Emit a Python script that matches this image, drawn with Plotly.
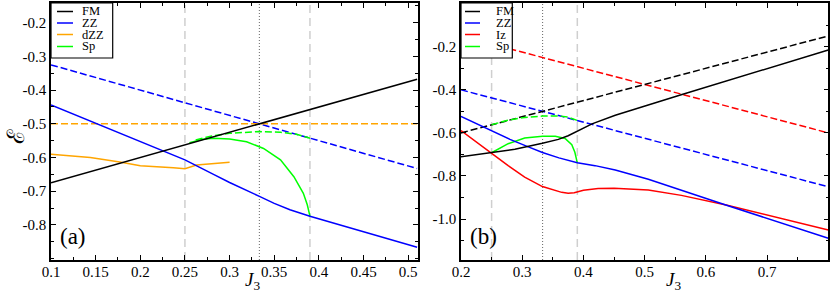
import plotly.graph_objects as go

# ---------------- data: panel (a) ----------------
a_fm_x = [0.1, 0.51]
a_fm_y = [-0.675, -0.3675]

a_zz_x = [0.1, 0.2, 0.25, 0.282, 0.30, 0.334, 0.35, 0.3676, 0.38, 0.39, 0.45, 0.51]
a_zz_y = [-0.444, -0.552, -0.607, -0.650, -0.674, -0.716, -0.736, -0.755, -0.766, -0.774, -0.820, -0.866]

a_zz_dash_x = [0.1, 0.51]
a_zz_dash_y = [-0.325, -0.6325]

a_dzz_x = [0.1, 0.144, 0.177, 0.2, 0.237, 0.25, 0.263, 0.282, 0.3]
a_dzz_y = [-0.590, -0.600, -0.613, -0.624, -0.630, -0.633, -0.622, -0.617, -0.614]

a_dzz_dash_x = [0.1, 0.51]
a_dzz_dash_y = [-0.5, -0.5]

a_sp_x = [0.255, 0.27, 0.282, 0.30, 0.319, 0.338, 0.357, 0.372, 0.3826, 0.387, 0.39]
a_sp_y = [-0.556, -0.546, -0.543, -0.545, -0.553, -0.573, -0.607, -0.657, -0.706, -0.740, -0.774]

a_sp_dash_x = [0.262, 0.28, 0.30, 0.32, 0.334, 0.357, 0.375, 0.39]
a_sp_dash_y = [-0.548, -0.536, -0.528, -0.524, -0.523, -0.525, -0.531, -0.5425]

# ---------------- data: panel (b) ----------------
b_fm_x = [0.2, 0.25, 0.288, 0.333, 0.359, 0.375, 0.39, 0.414, 0.452, 0.506, 0.561, 0.8]
b_fm_y = [-0.711, -0.692, -0.676, -0.648, -0.630, -0.613, -0.592, -0.558, -0.518, -0.470, -0.422, -0.215]

b_fm_dash_x = [0.2, 0.8]
b_fm_dash_y = [-0.6, -0.15]

b_zz_x = [0.2, 0.25, 0.28, 0.31, 0.333, 0.36, 0.39, 0.419, 0.452, 0.506, 0.635, 0.8]
b_zz_y = [-0.523, -0.590, -0.630, -0.665, -0.691, -0.716, -0.739, -0.752, -0.772, -0.815, -0.937, -1.089]

b_zz_dash_x = [0.2, 0.8]
b_zz_dash_y = [-0.4, -0.85]

b_iz_x = [0.2, 0.225, 0.25, 0.277, 0.304, 0.333, 0.3645, 0.375, 0.385, 0.40, 0.424, 0.45, 0.506, 0.56, 0.635, 0.8]
b_iz_y = [-0.589, -0.643, -0.695, -0.752, -0.805, -0.849, -0.876, -0.880, -0.878, -0.866, -0.858, -0.857, -0.865, -0.890, -0.936, -1.051]

b_iz_dash_x = [0.2, 0.8]
b_iz_dash_y = [-0.15, -0.6]

b_sp_x = [0.25, 0.277, 0.304, 0.333, 0.354, 0.37, 0.381, 0.386, 0.39]
b_sp_y = [-0.692, -0.650, -0.624, -0.615, -0.616, -0.626, -0.655, -0.690, -0.739]

b_sp_dash_x = [0.25, 0.275, 0.30, 0.333, 0.36, 0.375, 0.39]
b_sp_dash_y = [-0.5625, -0.542, -0.530, -0.522, -0.521, -0.527, -0.5425]

vlines_dashed = [0.25, 0.39]
vline_dotted = [1 / 3]

legend_a = ["FM", "ZZ", "dZZ", "Sp"]
legend_b = ["FM", "ZZ", "Iz", "Sp"]

a_xticks = [0.1, 0.15, 0.2, 0.25, 0.3, 0.35, 0.4, 0.45, 0.5]
a_xticktext = ["0.1", "0.15", "0.2", "0.25", "0.3", "0.35", "0.4", "0.45", "0.5"]
a_yticks = [-0.8, -0.7, -0.6, -0.5, -0.4, -0.3, -0.2]
a_yticktext = ["-0.8", "-0.7", "-0.6", "-0.5", "-0.4", "-0.3", "-0.2"]
b_xticks = [0.2, 0.3, 0.4, 0.5, 0.6, 0.7]
b_xticktext = ["0.2", "0.3", "0.4", "0.5", "0.6", "0.7"]
b_yticks = [-1.0, -0.8, -0.6, -0.4, -0.2]
b_yticktext = ["-1.0", "-0.8", "-0.6", "-0.4", "-0.2"]

# ---------------- styling ----------------
BLACK = "#000000"
BLUE = "#0000ff"
ORANGE = "#ffa500"
GREEN = "#00ff00"
RED = "#ff0000"
LW = 1.5
DASH = "7px,3px"
FONT = "Liberation Serif, Times New Roman, serif"

colors = {"FM": BLACK, "ZZ": BLUE, "dZZ": ORANGE, "Iz": RED, "Sp": GREEN}

fig = go.Figure()


def add(x, y, color, dash, xa, ya):
    fig.add_trace(go.Scatter(
        x=x, y=y, mode="lines", showlegend=False, hoverinfo="skip",
        line=dict(color=color, width=LW, dash=dash),
        xaxis=xa, yaxis=ya))


# panel (a)
add(a_zz_dash_x, a_zz_dash_y, BLUE, DASH, "x", "y")
add(a_dzz_dash_x, a_dzz_dash_y, ORANGE, DASH, "x", "y")
add(a_sp_dash_x, a_sp_dash_y, GREEN, DASH, "x", "y")
add(a_dzz_x, a_dzz_y, ORANGE, "solid", "x", "y")
add(a_sp_x, a_sp_y, GREEN, "solid", "x", "y")
add(a_zz_x, a_zz_y, BLUE, "solid", "x", "y")
add(a_fm_x, a_fm_y, BLACK, "solid", "x", "y")

# panel (b)
add(b_iz_dash_x, b_iz_dash_y, RED, DASH, "x2", "y2")
add(b_zz_dash_x, b_zz_dash_y, BLUE, DASH, "x2", "y2")
add(b_fm_dash_x, b_fm_dash_y, BLACK, DASH, "x2", "y2")
add(b_sp_dash_x, b_sp_dash_y, GREEN, DASH, "x2", "y2")
add(b_sp_x, b_sp_y, GREEN, "solid", "x2", "y2")
add(b_iz_x, b_iz_y, RED, "solid", "x2", "y2")
add(b_zz_x, b_zz_y, BLUE, "solid", "x2", "y2")
add(b_fm_x, b_fm_y, BLACK, "solid", "x2", "y2")

shapes = []
for xr, yr in (("x", "y"), ("x2", "y2")):
    for v in vlines_dashed:
        shapes.append(dict(type="line", xref=xr, yref=yr + " domain", x0=v, x1=v, y0=0, y1=1,
                           line=dict(color="#cfcfcf", width=1.5, dash="8px,5px"), layer="below"))
    for v in vline_dotted:
        shapes.append(dict(type="line", xref=xr, yref=yr + " domain", x0=v, x1=v, y0=0, y1=1,
                           line=dict(color="#666666", width=1, dash="1px,2px"), layer="below"))

W, H = 830, 293
T, B = 3, 33
PH = H - T - B


def px(x):
    return x / W


def py(y):
    return (H - B - y) / PH


annotations = []


def legend(x0, x1, y1, names, line_x0, line_x1, text_x, rows):
    shapes.append(dict(type="rect", xref="paper", yref="paper",
                       x0=px(x0), x1=px(x1), y0=py(y1), y1=py(T),
                       line=dict(color="black", width=1.2), fillcolor="white", layer="above"))
    for name, ry in zip(names, rows):
        shapes.append(dict(type="line", xref="paper", yref="paper",
                           x0=px(line_x0), x1=px(line_x1), y0=py(ry), y1=py(ry),
                           line=dict(color=colors[name], width=LW), layer="above"))
        annotations.append(dict(text=name, xref="paper", yref="paper", x=px(text_x), y=py(ry),
                                xanchor="left", yanchor="middle", showarrow=False,
                                font=dict(family=FONT, size=12.5, color="black")))


rows = [11.5, 23.0, 34.5, 46.5]
legend(51, 112.7, 58, legend_a, 57, 73, 80, rows)
legend(461, 512.3, 58, legend_b, 465, 480, 494, rows)


def label(text, x, y, size, angle=0, family=FONT):
    annotations.append(dict(text=text, xref="paper", yref="paper", x=px(x), y=py(y),
                            xanchor="center", yanchor="middle", showarrow=False, textangle=angle,
                            font=dict(family=family, size=size, color="black")))


label("(a)", 73, 236, 23)
label("(b)", 483, 236, 23)
label("<i>J</i><sub>3</sub>", 252, 281, 19)
label("<i>J</i><sub>3</sub>", 673, 281, 19)
label("ℰ", 16, 137, 24, angle=-90, family="DejaVu Serif, serif")

axis_common = dict(showgrid=False, zeroline=False, showline=True, linecolor="black", linewidth=1.5,
                   mirror="ticks", ticks="inside", ticklen=5, tickwidth=1, tickcolor="black",
                   tickmode="array", automargin=False,
                   tickfont=dict(family=FONT, size=15, color="black"))

fig.update_layout(
    width=W, height=H,
    margin=dict(l=0, r=0, t=T, b=B),
    paper_bgcolor="white", plot_bgcolor="white",
    showlegend=False,
    xaxis=dict(axis_common, domain=[51 / W, 418 / W], range=[0.1, 0.511], anchor="y",
               tickvals=a_xticks, ticktext=a_xticktext, ticklabelstandoff=-3,
               minor=dict(tickmode="linear", tick0=0.1, dtick=0.025, ticks="inside", ticklen=3,
                          tickcolor="black")),
    yaxis=dict(axis_common, domain=[0, 1], range=[-0.904, -0.1415], anchor="x",
               tickvals=a_yticks, ticktext=a_yticktext,
               minor=dict(tickmode="linear", tick0=-0.8, dtick=0.05, ticks="inside", ticklen=3,
                          tickcolor="black")),
    xaxis2=dict(axis_common, domain=[461 / W, 828.3 / W], range=[0.2, 0.8], anchor="y2",
                tickvals=b_xticks, ticktext=b_xticktext, ticklabelstandoff=-3,
                minor=dict(tickmode="linear", tick0=0.2, dtick=0.05, ticks="inside", ticklen=3,
                           tickcolor="black")),
    yaxis2=dict(axis_common, domain=[0, 1], range=[-1.19, 0.003], anchor="x2",
                tickvals=b_yticks, ticktext=b_yticktext,
                minor=dict(tickmode="linear", tick0=-1.0, dtick=0.1, ticks="inside", ticklen=3,
                           tickcolor="black")),
    shapes=shapes,
    annotations=annotations,
)

fig.write_html("out.html", config={"displayModeBar": False},
               post_script="document.body.style.margin='0';document.body.style.padding='0';")
